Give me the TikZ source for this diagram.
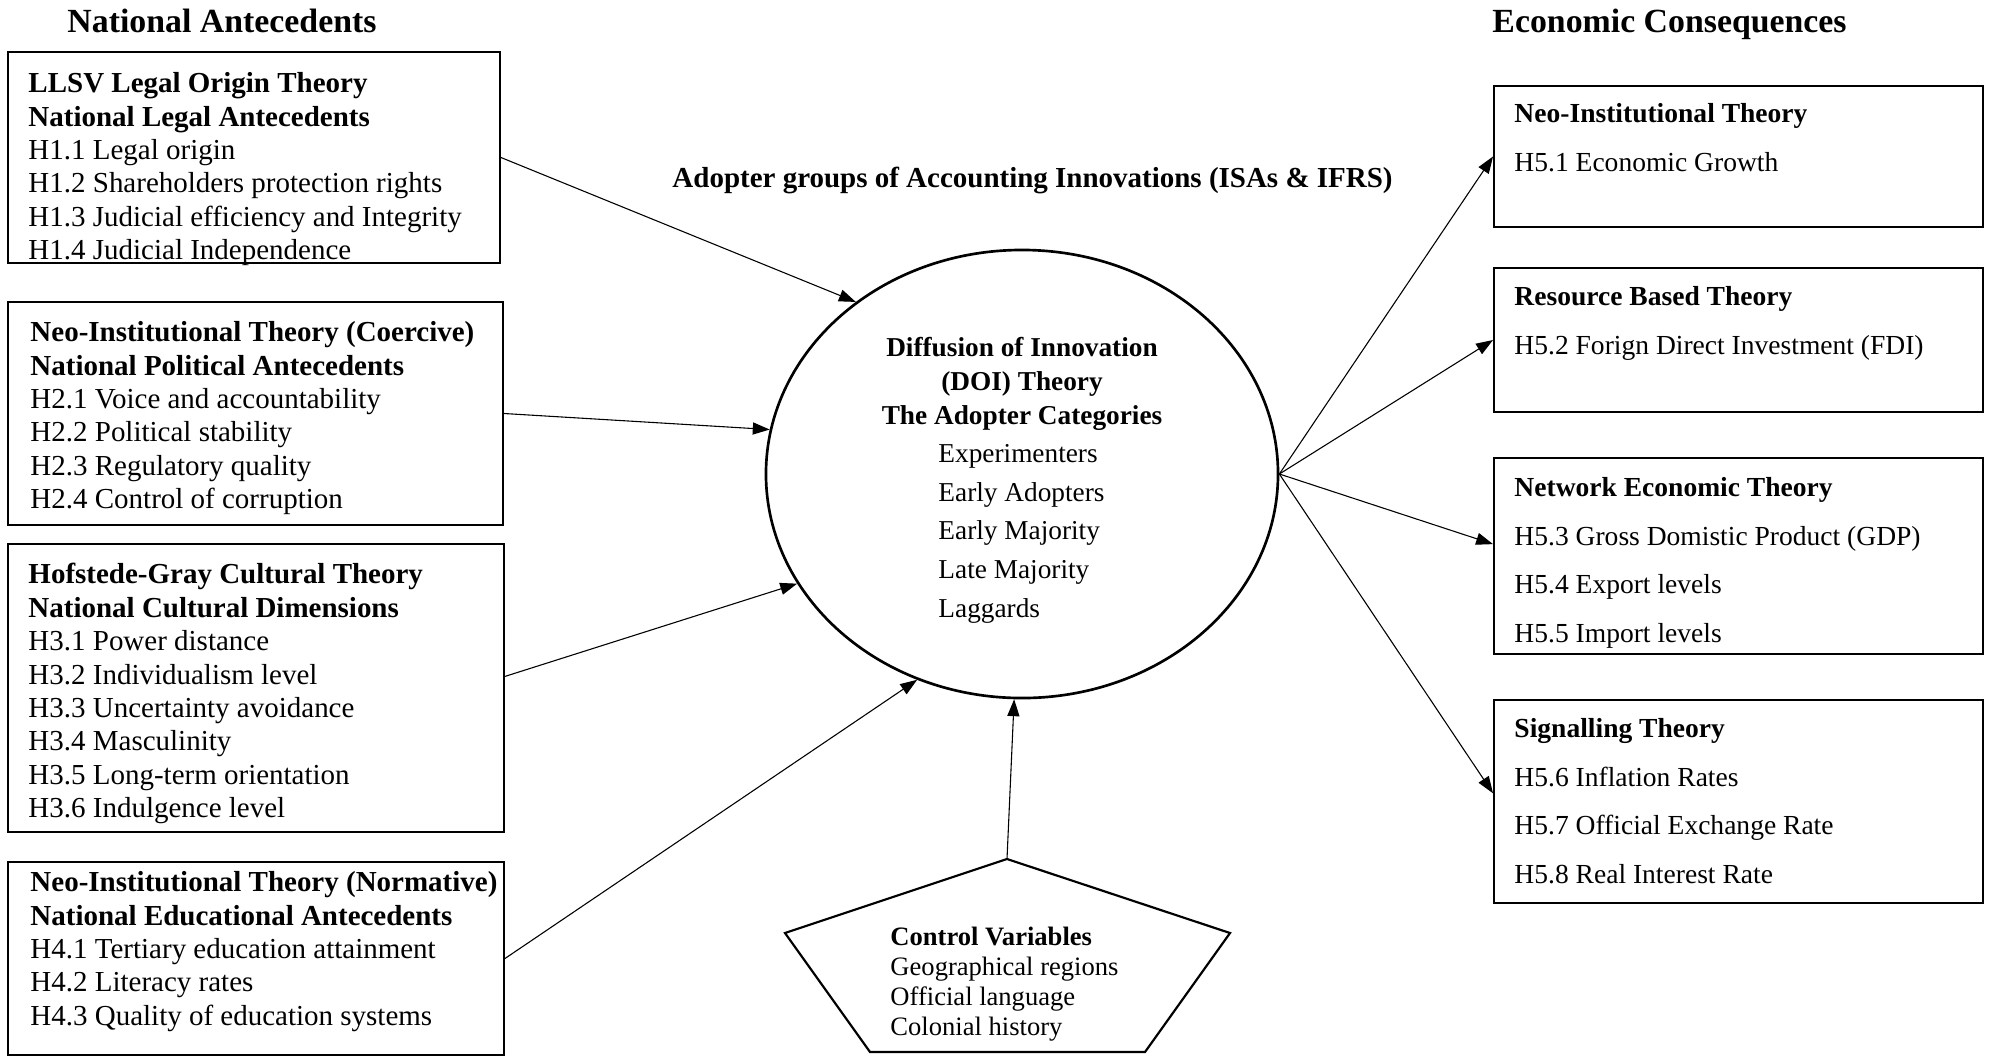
\documentclass[tikz,border=0pt]{standalone}
\usepackage{fontspec}
\setmainfont{Liberation Serif}
\usetikzlibrary{positioning,arrows.meta,calc,fit,shapes.geometric}

\begin{document}
\begin{tikzpicture}[
  x=0.414pt, y=-0.414pt,
  box/.style={draw, line width=0.8pt, inner sep=0pt},
  btext/.style={anchor=north west, inner sep=0pt, align=left, font=\fontsize{12}{13.83}\selectfont},
  rtext/.style={anchor=north west, inner sep=0pt, align=left, font=\fontsize{11.4}{20.1}\selectfont},
  heading/.style={anchor=base west, inner sep=0pt, font=\fontsize{14}{16}\selectfont\bfseries},
  link/.style={-{Triangle[length=7pt, width=5pt]}, line width=0.45pt}
]
  \useasboundingbox (0,0) rectangle (1991,1058);

  % Headings
  \node[heading] (natant) at (67,32) {National Antecedents};
  \node[heading] (econ) at (1492,32) {Economic Consequences};
  \node[anchor=base west, inner sep=0pt, font=\fontsize{12}{14}\selectfont\bfseries] (adopt) at (672,187)
    {Adopter groups of Accounting Innovations (ISAs \& IFRS)};

  % Left side
  \node[box, fit={(8,52) (500,263)}] (lbox1) {};
  \node[btext] (ltext1) at (28,72) {\textbf{LLSV Legal Origin Theory}\\ \textbf{National Legal Antecedents}\\
    H1.1 Legal origin\\ H1.2 Shareholders protection rights\\ H1.3 Judicial efficiency and Integrity\\
    H1.4 Judicial Independence};
  \node[box, fit={(8,302) (503,525)}] (lbox2) {};
  \node[btext] (ltext2) at (30,321) {\textbf{Neo-Institutional Theory (Coercive)}\\ \textbf{National Political Antecedents}\\
    H2.1 Voice and accountability\\ H2.2 Political stability\\ H2.3 Regulatory quality\\
    H2.4 Control of corruption};
  \node[box, fit={(8,544) (504,832)}] (lbox3) {};
  \node[btext] (ltext3) at (28,563) {\textbf{Hofstede-Gray Cultural Theory}\\ \textbf{National Cultural Dimensions}\\
    H3.1 Power distance\\ H3.2 Individualism level\\ H3.3 Uncertainty avoidance\\ H3.4 Masculinity\\
    H3.5 Long-term orientation\\ H3.6 Indulgence level};
  \node[box, fit={(8,862) (504,1055)}] (lbox4) {};
  \node[btext] (ltext4) at (30,871) {\textbf{Neo-Institutional Theory (Normative)}\\ \textbf{National Educational Antecedents}\\
    H4.1 Tertiary education attainment\\ H4.2 Literacy rates\\ H4.3 Quality of education systems};

  % Centre
  \node[ellipse, draw, line width=1.1pt, minimum width=212pt, minimum height=185.5pt, inner sep=0pt] (doi) at (1022,474) {};
  \node[anchor=north, inner sep=0pt, align=center, font=\fontsize{11.3}{14.1}\selectfont\bfseries] (doititle) at (1022,337)
    {Diffusion of Innovation\\(DOI) Theory\\The Adopter Categories};
  \node[anchor=north west, inner sep=0pt, align=left, font=\fontsize{11.3}{16}\selectfont] (doilist) at (938,444)
    {Experimenters\\Early Adopters\\Early Majority\\Late Majority\\Laggards};

  % Control variables
  \coordinate (ctop) at (1007,859);
  \draw[line width=0.9pt] (ctop) -- (1230,933) -- (1145,1052) -- (870,1052) -- (785,933) -- cycle;
  \node[anchor=north west, inner sep=0pt, align=left, font=\fontsize{11}{12.4}\selectfont] (ctrl) at (890,927)
    {\textbf{Control Variables}\\Geographical regions\\Official language\\Colonial history};

  % Right side
  \node[box, fit={(1494,86) (1983,227)}] (rbox1) {};
  \node[rtext] (rtext1) at (1514,103) {\textbf{Neo-Institutional Theory}\\ H5.1 Economic Growth};
  \node[box, fit={(1494,268) (1983,412)}] (rbox2) {};
  \node[rtext] (rtext2) at (1514,286) {\textbf{Resource Based Theory}\\ H5.2 Forign Direct Investment (FDI)};
  \node[box, fit={(1494,458) (1983,654)}] (rbox3) {};
  \node[rtext] (rtext3) at (1514,477) {\textbf{Network Economic Theory}\\ H5.3 Gross Domistic Product (GDP)\\
    H5.4 Export levels\\ H5.5 Import levels};
  \node[box, fit={(1494,700) (1983,903)}] (rbox4) {};
  \node[rtext] (rtext4) at (1514,718) {\textbf{Signalling Theory}\\ H5.6 Inflation Rates\\
    H5.7 Official Exchange Rate\\ H5.8 Real Interest Rate};

  % Links
  \draw[link] (lbox1.east) -- (doi.134);
  \draw[link] (lbox2.east) -- (doi.170);
  \draw[link] ($(lbox3.north east)!0.46!(lbox3.south east)$) -- (doi.206);
  \draw[link] (lbox4.east) -- (doi.243);
  \draw[link] (ctop) -- (doi.268);
  \draw[link] (doi.east) -- (rbox1.west);
  \draw[link] (doi.east) -- (rbox2.west);
  \draw[link] (doi.east) -- ($(rbox3.north west)!0.44!(rbox3.south west)$);
  \draw[link] (doi.east) -- ($(rbox4.north west)!0.46!(rbox4.south west)$);
\end{tikzpicture}
\end{document}
